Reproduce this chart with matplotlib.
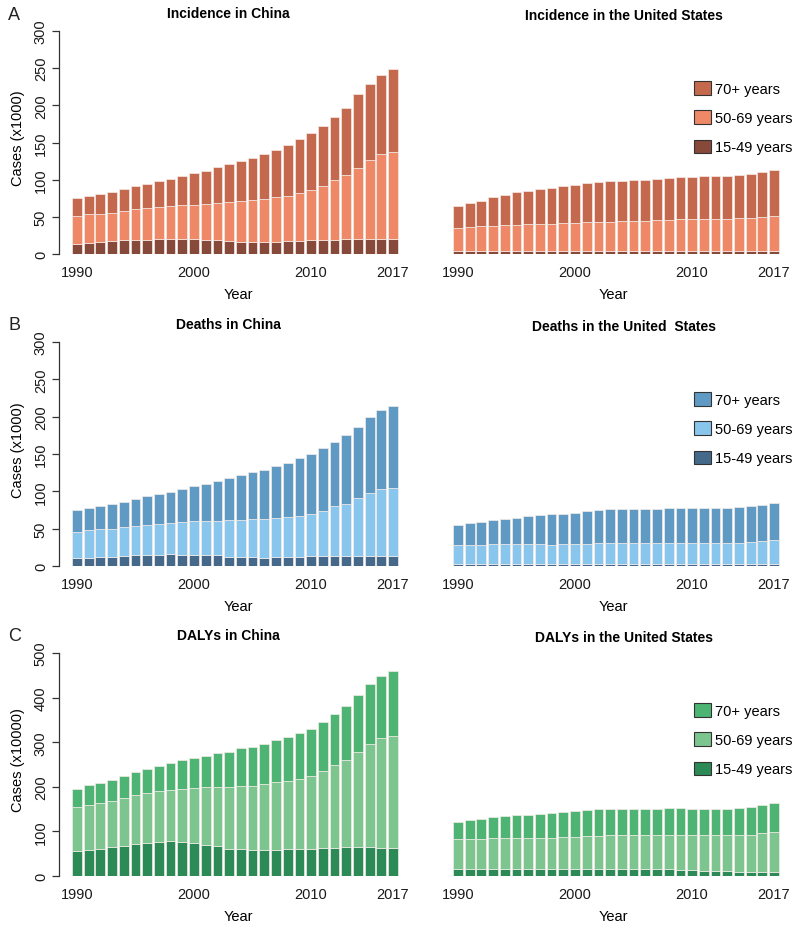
import numpy as np
import matplotlib
matplotlib.use("Agg")
import matplotlib.pyplot as plt
from matplotlib.patches import Patch

plt.rcParams['font.family'] = ['Liberation Sans', 'DejaVu Sans']

years = list(range(1990, 2018))
tick_years = [1990, 2000, 2010, 2017]
age_groups = ["15-49 years", "50-69 years", "70+ years"]

# Incidence (x1000)
inc_cn_15_49 = [13.4, 14.3, 15.7, 17.0, 18.4, 19.3, 19.3, 20.2, 20.2, 20.2, 19.7, 19.3, 18.4, 17.0,
                15.7, 15.7, 15.7, 15.7, 17.0, 17.5, 18.4, 18.4, 19.3, 20.2, 20.2, 20.2, 20.2, 20.2]
inc_cn_50_69 = [37.2, 39.0, 38.5, 38.5, 39.8, 41.2, 42.5, 43.4, 44.7, 45.6, 46.6, 47.9, 50.1, 52.4,
                55.1, 56.4, 57.7, 60.9, 61.4, 64.9, 68.0, 73.4, 80.1, 86.4, 95.8, 106.5, 113.7, 117.3]
inc_cn_70 = [24.2, 24.6, 26.0, 27.8, 28.7, 30.4, 31.8, 34.4, 36.3, 38.5, 42.5, 44.8, 48.8, 52.0,
             54.6, 57.3, 60.5, 63.6, 68.0, 72.1, 76.2, 80.6, 85.1, 90.4, 99.8, 101.7, 107.0, 111.0]

inc_us_15_49 = [4.5, 4.5, 4.5, 4.5, 4.5, 4.5, 4.5, 4.5, 4.5, 4.5, 4.5, 4.5, 4.5, 4.5,
                4.5, 4.5, 4.5, 4.5, 4.5, 4.5, 4.0, 4.0, 3.5, 3.5, 3.5, 3.5, 3.5, 3.5]
inc_us_50_69 = [30.9, 31.8, 32.7, 33.6, 34.5, 34.9, 35.8, 35.8, 35.8, 36.7, 37.1, 38.0, 38.9, 38.9,
                39.8, 39.8, 39.8, 41.2, 41.2, 42.1, 42.6, 43.5, 44.0, 44.0, 44.4, 45.3, 46.2, 47.6]
inc_us_70 = [29.5, 31.7, 34.0, 38.5, 40.7, 43.4, 44.8, 46.6, 48.8, 49.7, 51.5, 52.9, 53.8, 55.1,
             54.2, 55.1, 55.1, 54.6, 56.0, 56.8, 56.8, 56.8, 56.8, 56.8, 57.8, 58.2, 60.0, 61.8]

# Deaths (x1000)
dth_cn_15_49 = [11.2, 11.2, 12.1, 12.1, 13.4, 14.3, 15.2, 15.2, 16.6, 15.2, 15.2, 14.3, 14.3, 12.1,
                12.1, 12.1, 11.2, 12.1, 12.1, 12.1, 13.4, 13.4, 13.4, 13.4, 13.4, 13.4, 13.4, 13.4]
dth_cn_50_69 = [34.9, 36.7, 37.2, 38.1, 38.5, 39.9, 39.9, 41.2, 41.2, 43.5, 44.4, 46.2, 46.2, 49.3,
                49.7, 50.6, 52.4, 52.8, 53.7, 55.5, 56.9, 60.9, 66.3, 70.3, 78.0, 83.8, 89.6, 91.4]
dth_cn_70 = [29.1, 30.0, 30.4, 32.6, 34.1, 34.9, 38.0, 40.3, 41.6, 43.8, 47.0, 49.2, 53.7, 56.8,
             60.5, 63.1, 65.4, 69.4, 72.6, 77.0, 79.7, 84.2, 86.9, 91.4, 95.3, 102.1, 106.1, 109.7]

dth_us_15_49 = [3.0, 3.0, 3.0, 3.0, 3.0, 3.0, 3.0, 3.0, 3.0, 3.0, 3.0, 3.0, 3.0, 3.0,
                3.0, 3.0, 3.0, 3.0, 3.0, 3.0, 2.5, 2.5, 2.5, 2.5, 2.5, 2.5, 2.5, 2.5]
dth_us_50_69 = [25.2, 25.2, 25.2, 26.1, 26.1, 26.1, 26.1, 26.1, 25.2, 26.1, 26.1, 26.1, 27.5, 27.5,
                27.5, 27.5, 27.5, 27.5, 28.3, 28.3, 28.8, 28.8, 28.8, 28.8, 28.8, 30.2, 31.1, 32.4]
dth_us_70 = [26.4, 29.1, 30.5, 32.7, 34.0, 35.8, 37.2, 38.9, 41.2, 41.2, 42.5, 44.3, 44.3, 45.2,
             45.2, 46.1, 46.1, 46.1, 46.2, 46.2, 46.2, 46.2, 46.2, 46.2, 47.5, 47.5, 48.4, 49.3]

# DALYs (x10000)
daly_cn_15_49 = [56.1, 57.5, 61.3, 65.0, 67.3, 71.0, 74.7, 77.0, 79.2, 77.0, 73.2, 69.5, 68.0, 61.3,
                 59.8, 57.5, 57.5, 57.5, 59.8, 59.8, 61.3, 62.8, 62.8, 65.0, 65.0, 65.0, 62.8, 62.8]
daly_cn_50_69 = [98.6, 102.4, 102.4, 103.2, 107.6, 111.4, 112.1, 114.3, 114.4, 118.8, 124.9, 130.1, 132.3, 139.0,
                 142.0, 144.3, 148.0, 153.3, 154.0, 156.9, 163.7, 172.6, 186.1, 194.3, 212.3, 231.7, 246.6, 251.8]
daly_cn_70 = [41.1, 43.4, 44.8, 47.0, 49.3, 50.8, 53.1, 56.1, 60.5, 63.5, 66.5, 70.2, 74.7, 78.5,
              85.2, 88.2, 89.7, 94.1, 97.1, 104.7, 104.6, 109.9, 114.3, 121.1, 128.5, 133.0, 138.3, 144.3]

daly_us_15_49 = [14.9, 14.9, 14.9, 14.9, 14.9, 14.9, 14.9, 14.9, 14.9, 15.7, 16.4, 16.4, 16.4, 16.4,
                 16.4, 16.4, 14.9, 14.9, 14.9, 14.2, 12.7, 12.0, 11.2, 10.5, 9.0, 9.0, 9.0, 9.0]
daly_us_50_69 = [67.3, 68.8, 68.8, 70.3, 70.3, 71.0, 71.0, 71.0, 71.0, 71.7, 71.0, 72.5, 72.5, 74.8,
                 74.8, 76.3, 77.8, 77.8, 77.8, 78.5, 80.0, 80.7, 81.5, 82.2, 83.7, 83.7, 88.2, 89.7]
daly_us_70 = [38.9, 41.1, 43.4, 47.1, 48.6, 51.6, 51.6, 53.9, 55.4, 56.1, 58.3, 58.3, 60.6, 59.8,
              59.0, 58.3, 58.3, 58.3, 59.8, 59.8, 58.3, 58.3, 58.3, 58.3, 60.5, 62.0, 62.8, 65.7]

inc_colors = ["#87493A", "#EE8866", "#C4694D"]
dth_colors = ["#44698A", "#88C6EE", "#5F9AC5"]
daly_colors = ["#2B8A55", "#7CC58E", "#4DB473"]

W, H = 800, 928
fig = plt.figure(figsize=(W / 100, H / 100), dpi=100)

x = np.arange(len(years))
bar_w = 1 / 1.2
xlim = (-1.53, 28.02)


def px_axes(left, top0, bottom0, width=346):
    # top0: pixel y of ymax, bottom0: pixel y of 0
    return fig.add_axes([left / W, 1 - bottom0 / H, width / W, (bottom0 - top0) / H])


def draw_panel(ax, series, colors, ymax, yticks, show_y):
    bottom = np.zeros(len(years))
    for vals, col in zip(series, colors):
        ax.bar(x, vals, width=bar_w, bottom=bottom, color=col,
               edgecolor="#F4ECE8", linewidth=0.5)
        bottom += np.array(vals)
    ax.set_xlim(*xlim)
    ax.set_ylim(0, ymax)
    for s in ["top", "right", "bottom"]:
        ax.spines[s].set_visible(False)
    ax.set_xticks([years.index(y) for y in tick_years])
    ax.set_xticklabels([str(y) for y in tick_years], fontsize=10.5, color="#1a1a1a")
    ax.tick_params(axis="x", length=0, pad=8)
    if show_y:
        ax.spines["left"].set_bounds(0, ymax)
        ax.spines["left"].set_color("#333333")
        ax.spines["left"].set_linewidth(0.9)
        ax.set_yticks(yticks)
        ax.set_yticklabels([str(t) for t in yticks], rotation=90, va="center",
                           fontsize=10.5, color="#1a1a1a")
        ax.tick_params(axis="y", length=5, width=0.9, pad=3, color="#333333")
    else:
        ax.spines["left"].set_visible(False)
        ax.set_yticks([])
    ax.patch.set_alpha(0)


def legend(ax, colors, x0, y0):
    handles = [Patch(facecolor=colors[i], edgecolor="#333333", linewidth=0.8, label=age_groups[i])
               for i in [2, 1, 0]]
    ax.legend(handles=handles, loc="upper left", bbox_to_anchor=(x0 / W, 1 - y0 / H),
              bbox_transform=fig.transFigure, frameon=False, fontsize=10.5,
              handlelength=1.15, handleheight=1.05, handletextpad=0.3,
              labelspacing=1.0, borderpad=0, borderaxespad=0)


panels = [
    ("A", "Incidence in China", "Incidence in the United States",
     [inc_cn_15_49, inc_cn_50_69, inc_cn_70], [inc_us_15_49, inc_us_50_69, inc_us_70],
     inc_colors, 300, [0, 50, 100, 150, 200, 250, 300], 32, 255, "Cases (x1000)"),
    ("B", "Deaths in China", "Deaths in the United  States",
     [dth_cn_15_49, dth_cn_50_69, dth_cn_70], [dth_us_15_49, dth_us_50_69, dth_us_70],
     dth_colors, 300, [0, 50, 100, 150, 200, 250, 300], 343, 567, "Cases (x1000)"),
    ("C", "DALYs in China", "DALYs in the United States",
     [daly_cn_15_49, daly_cn_50_69, daly_cn_70], [daly_us_15_49, daly_us_50_69, daly_us_70],
     daly_colors, 500, [0, 100, 200, 300, 400, 500], 654, 877, "Cases (x10000)"),
]

for letter, t_left, t_right, s_cn, s_us, cols, ymax, yt, top0, bot0, ylab in panels:
    ax_l = px_axes(59, top0, bot0)
    draw_panel(ax_l, s_cn, cols, ymax, yt, True)
    ax_r = px_axes(440, top0, bot0)
    draw_panel(ax_r, s_us, cols, ymax, yt, False)

    fig.text(8 / W, 1 - (top0 - 17) / H, letter, fontsize=13, ha="left", va="center", color="#222222")
    fig.text(228 / W, 1 - (top0 - 18) / H, t_left, fontsize=10, fontweight="bold", ha="center", va="center")
    fig.text(624 / W, 1 - (top0 - 16) / H, t_right, fontsize=10, fontweight="bold", ha="center", va="center")
    fig.text(18 / W, 1 - ((top0 + bot0) / 2 - 5) / H, ylab, fontsize=10.5, rotation=90,
             ha="center", va="center")
    fig.text(238 / W, 1 - (bot0 + 40) / H, "Year", fontsize=10.5, ha="center", va="center")
    fig.text(613 / W, 1 - (bot0 + 40) / H, "Year", fontsize=10.5, ha="center", va="center")

    legend(ax_r, cols, 694, top0 + 50)

fig.savefig("out.png", dpi=100)
